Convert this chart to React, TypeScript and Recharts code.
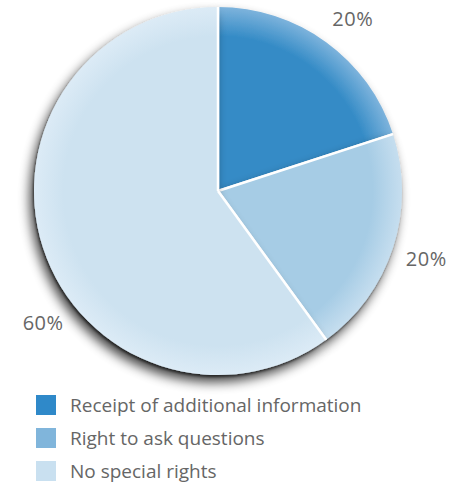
import React from "react";
import { PieChart, Pie, Cell, Legend, Sector } from "recharts";

const categories = [
  "Receipt of additional information",
  "Right to ask questions",
  "No special rights",
];
const shares = [20, 20, 60];
const sliceColors = ["#348BC6", "#A6CCE5", "#CDE2F0"];
const rimColors = ["#7DB3DC", "#C6DEEF", "#DCEBF6"];
const legendColors = ["#2F89C9", "#80B5DB", "#C9E0F0"];
// nudges the labels a little off the mid angle like the original
const labelAngleShift = [-2, 0, 19];

const CX = 218;
const CY = 191;
const R = 184;

const data = categories.map((name, i) => ({ name, value: shares[i] }));

const RAD = Math.PI / 180;

const renderLabel = (props: any) => {
  const { midAngle, index, value } = props;
  const a = (midAngle + labelAngleShift[index]) * RAD;
  const r = R + 35;
  const x = CX + r * Math.cos(a);
  const y = CY - r * Math.sin(a);
  return (
    <text
      x={x}
      y={y}
      fill="#666"
      fontSize={20}
      letterSpacing={0.5}
      textAnchor="middle"
      dominantBaseline="central"
    >
      {value}%
    </text>
  );
};

// sector without outer outline, white separators only along the radii
const renderSector = (props: any) => {
  const { cx, cy, outerRadius, startAngle, endAngle } = props;
  const edge = (ang: number) => ({
    x: cx + outerRadius * Math.cos(-ang * RAD),
    y: cy + outerRadius * Math.sin(-ang * RAD),
  });
  const s = edge(startAngle);
  const e = edge(endAngle);
  return (
    <g>
      <Sector {...props} stroke="none" />
      <line x1={cx} y1={cy} x2={s.x} y2={s.y} stroke="#fff" strokeWidth={2.5} />
      <line x1={cx} y1={cy} x2={e.x} y2={e.y} stroke="#fff" strokeWidth={2.5} />
    </g>
  );
};

const LegendBox = () => (
  <div style={{ paddingLeft: 36 }}>
    {categories.map((c, i) => (
      <div
        key={c}
        style={{ display: "flex", alignItems: "center", height: 33 }}
      >
        <span
          style={{
            width: 20,
            height: 20,
            background: legendColors[i],
            marginRight: 14,
          }}
        />
        <span style={{ color: "#666", fontSize: 19 }}>{c}</span>
      </div>
    ))}
  </div>
);

export default function App() {
  return (
    <div style={{ fontFamily: "'Open Sans', sans-serif" }}>
      <style>{`body{margin:0}`}</style>
      <PieChart width={467} height={487} margin={{ top: 0, right: 0, bottom: 0, left: 0 }}>
        <defs>
          <filter id="pieShadow" x="-20%" y="-20%" width="140%" height="140%">
            <feGaussianBlur in="SourceAlpha" stdDeviation={6} result="b1" />
            <feOffset in="b1" dx={-4} dy={7} result="o1" />
            <feComponentTransfer in="o1" result="s1">
              <feFuncA type="linear" slope={0.75} />
            </feComponentTransfer>
            <feGaussianBlur in="SourceAlpha" stdDeviation={1.2} result="b2" />
            <feOffset in="b2" dx={-1.5} dy={2} result="o2" />
            <feComponentTransfer in="o2" result="s2">
              <feFuncA type="linear" slope={0.55} />
            </feComponentTransfer>
            <feMerge>
              <feMergeNode in="s1" />
              <feMergeNode in="s2" />
              <feMergeNode in="SourceGraphic" />
            </feMerge>
          </filter>
          {sliceColors.map((c, i) => (
            <radialGradient
              key={i}
              id={`slice${i}`}
              gradientUnits="userSpaceOnUse"
              cx={CX}
              cy={CY}
              r={R}
            >
              <stop offset="0%" stopColor={c} />
              <stop offset="84%" stopColor={c} />
              <stop offset="100%" stopColor={rimColors[i]} />
            </radialGradient>
          ))}
        </defs>
        <Pie
          data={data}
          dataKey="value"
          cx={CX}
          cy={CY}
          outerRadius={R}
          startAngle={90}
          endAngle={-270}
          label={renderLabel}
          labelLine={false}
          shape={renderSector}
          isAnimationActive={false}
        >
          {data.map((d, i) => (
            <Cell key={d.name} fill={`url(#slice${i})`} filter="url(#pieShadow)" />
          ))}
        </Pie>
        <Legend
          verticalAlign="bottom"
          align="left"
          wrapperStyle={{ top: 388, left: 0, width: 467 }}
          content={() => <LegendBox />}
        />
      </PieChart>
    </div>
  );
}
